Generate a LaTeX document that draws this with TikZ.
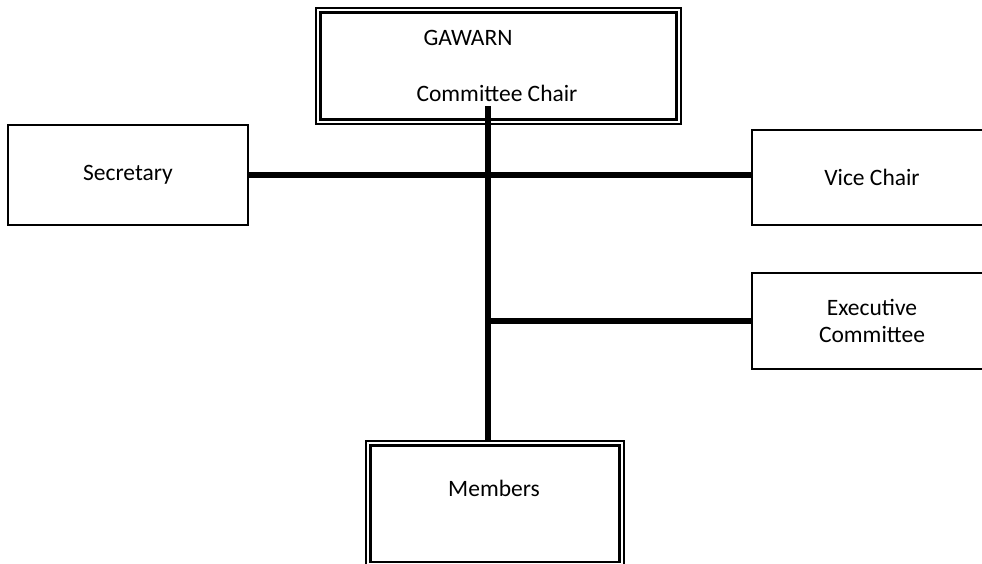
\documentclass[tikz,border=0pt]{standalone}
\usepackage{fontspec}
\setmainfont{Carlito}
\usepackage{tikz}
\usetikzlibrary{positioning}
\tikzstyle{post}=[draw,line width=1.3pt,inner sep=0pt,font=\fontsize{23.5}{27}\selectfont]
\tikzstyle{headpost}=[draw,line width=2.3pt,double,double distance=2pt,inner sep=0pt]
\tikzstyle{txt}=[inner sep=0pt,font=\fontsize{23.5}{27}\selectfont,align=center]
\tikzstyle{link}=[line width=6pt]

\begin{document}
\begin{tikzpicture}[x=1pt,y=1pt]
	\useasboundingbox (0,0) rectangle (982,-563);
	% chair and members
	\node[headpost,minimum width=360.4pt,minimum height=111.4pt] (chair) at (498.5,-66) {};
	\node[txt] (gawarn) at (468,-38) {GAWARN};
	\node[txt] (chairlbl) at (497,-93) {Committee Chair};
	\node[headpost,minimum width=253.4pt,minimum height=121pt] (members) at (495,-503.8) {};
	\node[txt] (memberslbl) at (494,-488) {Members};
	% side posts
	\node[post,minimum width=240pt,minimum height=100pt] (secretary) at (128,-175) {Secretary};
	\node[post,minimum width=240pt,minimum height=95pt] (vicechair) at (872,-177.5) {Vice Chair};
	\node[post,minimum width=240pt,minimum height=96pt,align=center] (executive) at (872,-321) {Executive\\Committee};
	\coordinate (trunktop) at (488,-106);
	\coordinate (trunkbot) at (488,-440);
	% lines
	\draw[link] (trunktop) -- (trunkbot);
	\draw[link] (secretary.east) -- (secretary.east -| vicechair.west);
	\draw[link] (trunktop |- executive.west) -- (executive.west);
\end{tikzpicture}
\end{document}
